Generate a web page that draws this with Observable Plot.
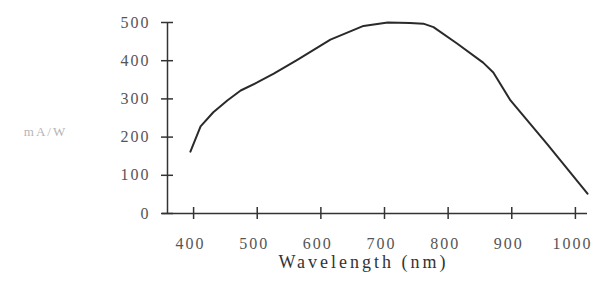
<!DOCTYPE html>
<html>
<head>
<meta charset="utf-8">
<script src="https://cdn.jsdelivr.net/npm/d3@7"></script>
<script src="https://cdn.jsdelivr.net/npm/@observablehq/plot@0.6"></script>
<style>
  html, body { margin: 0; padding: 0; background: #fff; }
  svg text { letter-spacing: 2px; }
</style>
</head>
<body>
<div id="chart"></div>
<script>
const wavelength = [395, 411, 431, 453, 474, 500, 526, 563, 615, 667, 705, 740, 761, 777, 814, 855, 871, 898, 956, 1019];
const response   = [162, 228, 265, 296, 322, 343, 366, 402, 455, 491, 500, 499, 497, 488, 445, 395, 369, 296, 181, 52];
const xTicks = [400, 500, 600, 700, 800, 900, 1000];
const yTicks = [0, 100, 200, 300, 400, 500];
const xDomain = [359, 1019];
const yDomain = [0, 500];
const xLabel = "Wavelength (nm)";
const yLabel = "mA/W";

const data = wavelength.map((w, i) => ({w, r: response[i]}));

const chart = Plot.plot({
  width: 592,
  height: 293,
  marginLeft: 167,
  marginRight: 5,
  marginTop: 22,
  marginBottom: 80,
  style: {fontFamily: "'Liberation Serif', 'Times New Roman', serif", fontSize: "16px", color: "#333", background: "#fff"},
  x: {domain: xDomain},
  y: {domain: yDomain},
  marks: [
    Plot.ruleY([yDomain[0]], {stroke: "#333", strokeWidth: 1.5, insetLeft: -5}),
    Plot.ruleX([xDomain[0]], {y1: yDomain[0], y2: yDomain[1], stroke: "#333", strokeWidth: 1.5}),
    Plot.axisX({ticks: xTicks, tickFormat: "d", tickSize: 0, tickPadding: 24, dx: -3, label: null, fill: "#555"}),
    Plot.axisX({ticks: xTicks, tickSize: 12, dy: -6, text: null, label: null, stroke: "#333", strokeWidth: 1.5}),
    Plot.axisY({ticks: yTicks, tickFormat: "d", tickSize: 0, tickPadding: 17, label: null, fill: "#555"}),
    Plot.axisY({ticks: yTicks, tickSize: 12, dx: 6, text: null, label: null, stroke: "#333", strokeWidth: 1.5}),
    Plot.line(data, {x: "w", y: "r", stroke: "#2a2a2a", strokeWidth: 2}),
    Plot.text([xLabel], {frameAnchor: "bottom", lineAnchor: "top", dy: 42, dx: -14, fontSize: 18, letterSpacing: 3, fill: "#333", style: "letter-spacing:3px"}),
    Plot.text([yLabel], {frameAnchor: "left", textAnchor: "middle", dx: -122, dy: 14, fontSize: 13, fill: "#b5b5b5"})
  ]
});
chart.querySelectorAll("text").forEach(t => { if (t.textContent === xLabel) t.style.letterSpacing = "3px"; });
document.getElementById("chart").appendChild(chart);
</script>
</body>
</html>
